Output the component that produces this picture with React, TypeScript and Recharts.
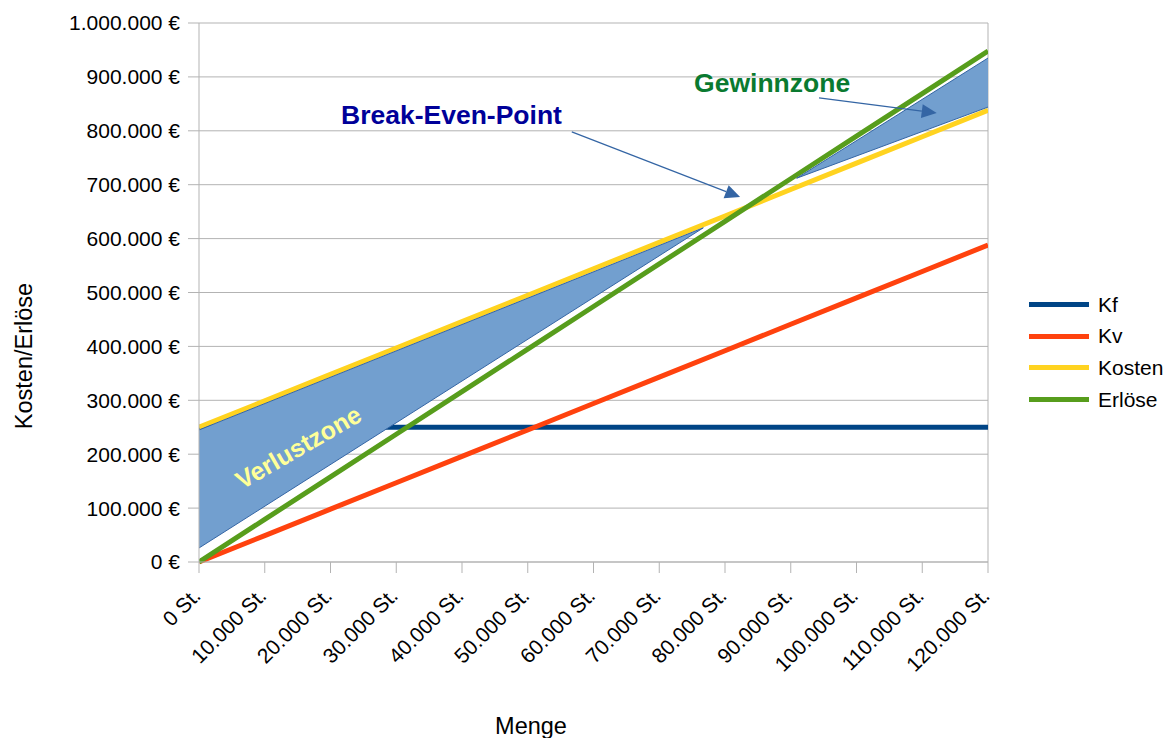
import {
  CartesianGrid,
  ComposedChart,
  Area,
  Legend,
  Line,
  ReferenceDot,
  ReferenceLine,
  XAxis,
  YAxis,
} from "recharts";

// Menge in Stück
const quantities = [0, 10000, 20000, 30000, 40000, 50000, 60000, 70000, 80000, 90000, 100000, 110000, 120000];
const kf = [250000, 250000, 250000, 250000, 250000, 250000, 250000, 250000, 250000, 250000, 250000, 250000, 250000];
const kv = [0, 49000, 98000, 147000, 196000, 245000, 294000, 343000, 392000, 441000, 490000, 539000, 588000];
const kosten = [250000, 299000, 348000, 397000, 446000, 495000, 544000, 593000, 642000, 691000, 740000, 789000, 838000];
const erloese = [0, 79000, 158000, 237000, 316000, 395000, 474000, 553000, 632000, 711000, 790000, 869000, 948000];

const seriesNames = ["Kf", "Kv", "Kosten", "Erlöse"];
const yTicks = [0, 100000, 200000, 300000, 400000, 500000, 600000, 700000, 800000, 900000, 1000000];

// shaded zones (vertices in data units)
const verlustzone = [
  { q: 0, range: [26000, 245000] },
  { q: 76700, range: [620000, 620000] },
];
const gewinnzone = [
  { q: 90900, range: [712000, 712000] },
  { q: 120000, range: [844000, 935000] },
];

const data = quantities.map((q, i) => ({
  q,
  kf: kf[i],
  kv: kv[i],
  kosten: kosten[i],
  erloese: erloese[i],
}));

const grey = "#b3b3b3";
const zoneBlue = "#729fcf";
const arrowBlue = "#3465a4";
const fs = 21;

const dots = (v: number) => String(v).replace(/\B(?=(\d{3})+(?!\d))/g, ".");

const XTick = (p: any) => {
  const x = p.x + 3;
  const y = p.y + 22;
  return (
    <text x={x} y={y} transform={`rotate(-45 ${x} ${y})`} textAnchor="end" fontSize={fs} fill="#000">
      {dots(p.payload.value)} St.
    </text>
  );
};

const Arrow = (p: any) => {
  const { x1, y1, x2, y2 } = p;
  const a = Math.atan2(y2 - y1, x2 - x1);
  const len = 15;
  const w = 7;
  const bx = x2 - len * Math.cos(a);
  const by = y2 - len * Math.sin(a);
  const pts = `${x2},${y2} ${bx - w * Math.sin(a)},${by + w * Math.cos(a)} ${bx + w * Math.sin(a)},${by - w * Math.cos(a)}`;
  return (
    <g>
      <line x1={x1} y1={y1} x2={bx} y2={by} stroke={arrowBlue} strokeWidth={1.2} />
      <polygon points={pts} fill={arrowBlue} />
    </g>
  );
};

const note = (text: string, color: string, size: number, anchor: string, rotate = 0) => (p: any) => (
  <text
    x={p.cx}
    y={p.cy}
    fontSize={size}
    fontWeight="bold"
    fill={color}
    textAnchor={anchor}
    dominantBaseline={rotate ? "central" : "auto"}
    transform={rotate ? `rotate(${rotate} ${p.cx} ${p.cy})` : undefined}
  >
    {text}
  </text>
);

const renderLegend = (props: any) => {
  const items = (props.payload || [])
    .filter((e: any) => seriesNames.includes(e.value))
    .sort((a: any, b: any) => seriesNames.indexOf(a.value) - seriesNames.indexOf(b.value));
  return (
    <div>
      {items.map((e: any) => (
        <div key={e.value} style={{ display: "flex", alignItems: "center", height: 31.6 }}>
          <div style={{ width: 60, height: 5, background: e.color }} />
          <span style={{ marginLeft: 9, fontSize: fs, color: "#000" }}>{e.value}</span>
        </div>
      ))}
    </div>
  );
};

export default function App() {
  return (
    <div
      style={{
        position: "absolute",
        left: 0,
        top: 0,
        width: 1170,
        height: 738,
        background: "#fff",
        fontFamily: "'Liberation Sans', Arial, sans-serif",
      }}
    >
      <ComposedChart width={1170} height={738} data={data} margin={{ top: 23, right: 182, bottom: 0, left: 0 }}>
        <CartesianGrid vertical={false} stroke={grey} />
        <XAxis
          dataKey="q"
          type="number"
          domain={[0, 120000]}
          ticks={quantities}
          allowDataOverflow
          height={176}
          tickSize={11}
          tick={<XTick />}
          axisLine={{ stroke: grey }}
          tickLine={{ stroke: grey }}
          label={{
            content: () => (
              <text x={531} y={734} textAnchor="middle" fontSize={23.5} fill="#000">
                Menge
              </text>
            ),
          }}
        />
        <YAxis
          type="number"
          domain={[0, 1000000]}
          ticks={yTicks}
          width={199}
          tickSize={11}
          tickMargin={8}
          tickFormatter={(v: number) => `${dots(v)} €`}
          tick={{ fill: "#000", fontSize: fs }}
          axisLine={{ stroke: grey }}
          tickLine={{ stroke: grey }}
          label={{
            content: () => (
              <text
                x={24}
                y={356}
                transform="rotate(-90 24 356)"
                textAnchor="middle"
                dominantBaseline="central"
                fontSize={23.5}
                fill="#000"
              >
                Kosten/Erlöse
              </text>
            ),
          }}
        />
        <ReferenceLine x={120000} stroke={grey} />
        <Line dataKey="kf" name="Kf" stroke="#004586" strokeWidth={5} dot={false} activeDot={false} isAnimationActive={false} />
        <Line dataKey="kv" name="Kv" stroke="#ff420e" strokeWidth={5} dot={false} activeDot={false} isAnimationActive={false} />
        <Line dataKey="kosten" name="Kosten" stroke="#ffd320" strokeWidth={5} dot={false} activeDot={false} isAnimationActive={false} />
        <Line dataKey="erloese" name="Erlöse" stroke="#579d1c" strokeWidth={5} dot={false} activeDot={false} isAnimationActive={false} />
        <Area
          data={verlustzone}
          dataKey="range"
          type="linear"
          fill={zoneBlue}
          fillOpacity={1}
          stroke={arrowBlue}
          strokeWidth={1}
          legendType="none"
          zIndex={450}
          isAnimationActive={false}
        />
        <Area
          data={gewinnzone}
          dataKey="range"
          type="linear"
          fill={zoneBlue}
          fillOpacity={1}
          stroke={arrowBlue}
          strokeWidth={1}
          legendType="none"
          zIndex={450}
          isAnimationActive={false}
        />
        <ReferenceLine segment={[{ x: 56700, y: 798000 }, { x: 82300, y: 677000 }]} shape={Arrow} zIndex={600} />
        <ReferenceLine segment={[{ x: 94300, y: 861000 }, { x: 112200, y: 833000 }]} shape={Arrow} zIndex={600} />
        <ReferenceDot x={21600} y={812600} shape={note("Break-Even-Point", "#000099", 26.5, "start")} zIndex={700} />
        <ReferenceDot x={75300} y={872000} shape={note("Gewinnzone", "#0a7a30", 26.5, "start")} zIndex={700} />
        <ReferenceDot x={15100} y={213400} shape={note("Verlustzone", "#ffff99", 25, "middle", -30)} zIndex={700} />
        <Legend
          layout="vertical"
          align="center"
          verticalAlign="middle"
          content={renderLegend}
          wrapperStyle={{ left: 1029, top: 289, width: 141 }}
        />
      </ComposedChart>
    </div>
  );
}
